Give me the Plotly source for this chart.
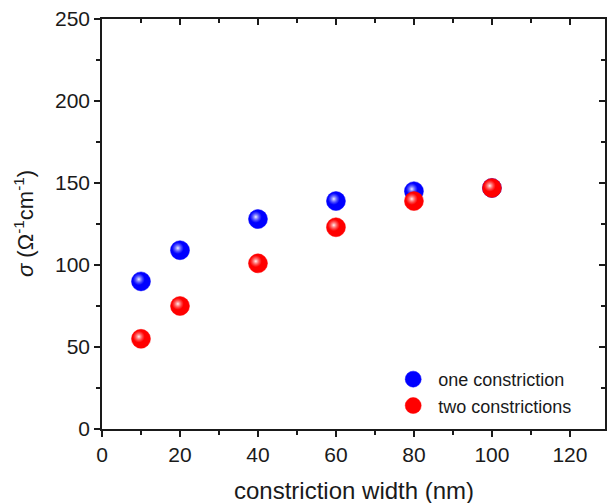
import plotly.graph_objects as go

width_nm = [10, 20, 40, 60, 80, 100]
one_constriction = [90, 109, 128, 139, 145, 147]
two_constrictions = [55, 75, 101, 123, 139, 147]
x_ticks = [0, 20, 40, 60, 80, 100, 120]
y_ticks = [0, 50, 100, 150, 200, 250]

FONT = "Liberation Sans, Arial, sans-serif"
AX = "#1a1a1a"
TXT = "#1a1a1a"

# small highlight offset (data units) to mimic the glossy sphere look
HX, HY = -0.55, 1.3

fig = go.Figure()
for name, vals, col, hl in [("one constriction", one_constriction, "#0000ff", "rgba(150,150,255,0)"),
                            ("two constrictions", two_constrictions, "#ff0000", "rgba(255,150,150,0)")]:
    fig.add_trace(go.Scatter(
        x=width_nm, y=vals, mode="markers", name=name,
        marker=dict(size=19, color=col, line=dict(width=0.5, color=col)),
    ))
    fig.add_trace(go.Scatter(
        x=[v + HX for v in width_nm], y=[v + HY for v in vals], mode="markers",
        showlegend=False, hoverinfo="skip",
        marker=dict(size=12, color=hl, line=dict(width=0),
                    gradient=dict(type="radial", color="rgba(255,255,255,0.95)")),
    ))

# invisible trace to bind mirror axes
fig.add_trace(go.Scatter(x=[width_nm[0]], y=[one_constriction[0]], xaxis="x2", yaxis="y2",
                         mode="markers", marker=dict(opacity=0), showlegend=False, hoverinfo="skip"))

axis_common = dict(showgrid=False, zeroline=False, showline=True, linecolor=AX, linewidth=1.5,
                   tickcolor=AX, tickwidth=1.5, ticklen=6, automargin=False,
                   tickfont=dict(family=FONT, size=21, color=TXT))
minor_out = dict(ticks="outside", ticklen=4, tickcolor=AX, tickwidth=1.5)
minor_in = dict(ticks="inside", ticklen=4, tickcolor=AX, tickwidth=1.5)

fig.update_layout(
    width=610, height=503,
    margin=dict(l=102, r=5, t=19, b=74),
    paper_bgcolor="white", plot_bgcolor="white",
    xaxis=dict(range=[0, 129], tickvals=x_ticks, ticks="outside", minor=dict(dtick=10, **minor_out),
               **axis_common),
    yaxis=dict(range=[0, 250], tickvals=y_ticks, ticks="outside", minor=dict(dtick=25, **minor_out),
               **axis_common),
    xaxis2=dict(overlaying="x", side="top", range=[0, 129], tickvals=x_ticks, ticks="inside",
                showticklabels=False, minor=dict(dtick=10, **minor_in), **axis_common),
    yaxis2=dict(overlaying="y", side="right", range=[0, 250], tickvals=y_ticks, ticks="inside",
                showticklabels=False, minor=dict(dtick=25, **minor_in), **axis_common),
    legend=dict(x=0.569, y=0.166, xanchor="left", yanchor="top", bgcolor="rgba(0,0,0,0)",
                font=dict(family=FONT, size=18, color=TXT), itemwidth=40, tracegroupgap=0),
    showlegend=True,
    annotations=[
        dict(text="constriction width (nm)", xref="paper", yref="paper", x=0.5, y=-0.149,
             xanchor="center", yanchor="middle", showarrow=False,
             font=dict(family=FONT, size=24, color=TXT)),
        dict(text="<i>σ</i> (Ω<sup>-1</sup>cm<sup>-1</sup>)", xref="paper", yref="paper",
             x=-0.155, y=0.5, xanchor="center", yanchor="middle", textangle=-90, showarrow=False,
             font=dict(family=FONT, size=22, color=TXT)),
    ],
)

fig.write_html("out.html", config={"displayModeBar": False},
               post_script="document.body.style.margin='0';document.body.style.padding='0';")
